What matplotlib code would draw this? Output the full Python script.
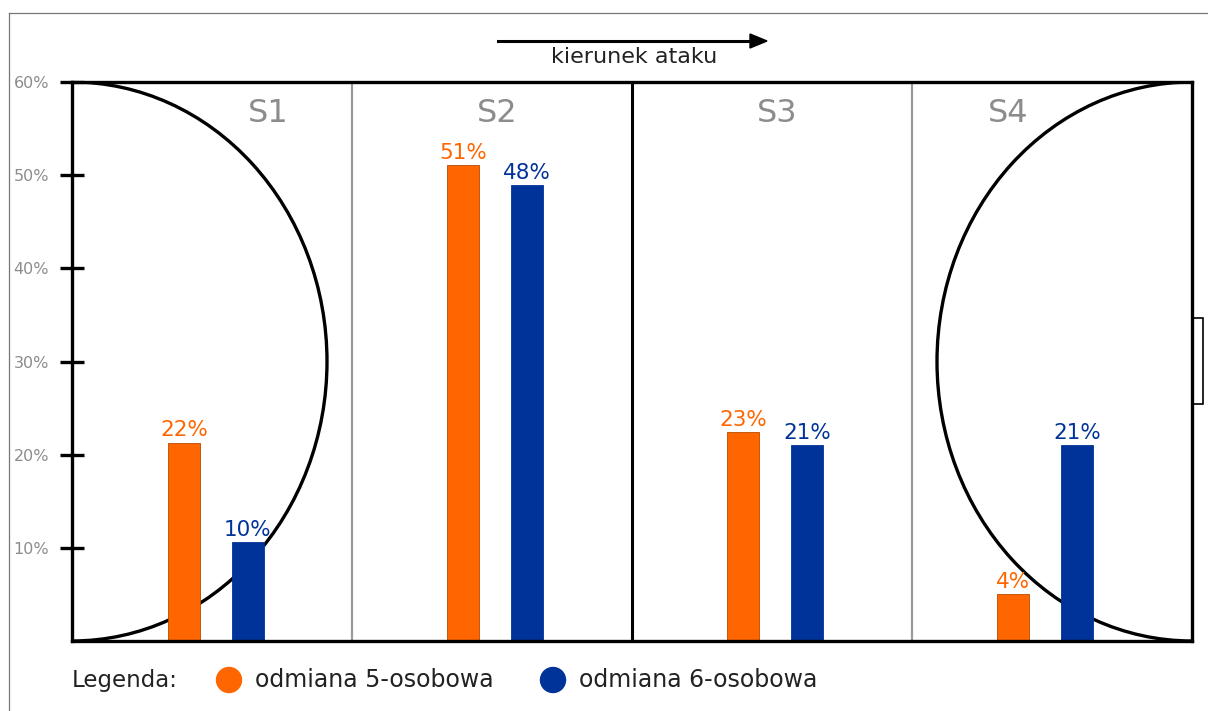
import matplotlib
matplotlib.use("Agg")
import matplotlib.pyplot as plt
from matplotlib.patches import Arc, Rectangle, Ellipse
from matplotlib.lines import Line2D
import numpy as np

# ---- data ----
sections = ["S1", "S2", "S3", "S4"]
five_vals = [21.3, 51.1, 22.4, 5.0]
six_vals = [10.6, 48.9, 21.0, 21.0]
five_labels = ["22%", "51%", "23%", "4%"]
six_labels = ["10%", "48%", "21%", "21%"]
yticks = [10, 20, 30, 40, 50, 60]
ytick_labels = ["10%", "20%", "30%", "40%", "50%", "60%"]
legend_names = ["odmiana 5-osobowa", "odmiana 6-osobowa"]

ORANGE = "#ff6600"
BLUE = "#003399"
GRAY = "#999999"
FONT = ["DejaVu Sans"]

W, H = 1208, 711
fig = plt.figure(figsize=(W / 100, H / 100), dpi=100)
fig.patch.set_facecolor("white")

def fx(px):
    return px / W

def fy(py):
    return 1 - py / H

# outer thin frame (left and top)
fig.add_artist(Line2D([fx(9), fx(9)], [fy(13), 0], color="#777777", lw=0.9))
fig.add_artist(Line2D([fx(9), 1], [fy(13), fy(13)], color="#777777", lw=0.9))

ax = fig.add_axes([fx(72), fy(641), (1192 - 72) / W, (641 - 82) / H])
ax.set_xlim(0, 4)
ax.set_ylim(0, 60)
for s in ax.spines.values():
    s.set_linewidth(2.4)
    s.set_color("black")
    s.set_zorder(5)

group_centers = np.array([0.514, 1.511, 2.511, 3.475])
bw = 32 / 280
off = 0.114

ax.bar(group_centers - off, five_vals, width=bw, color=ORANGE, edgecolor="#b84a00", linewidth=0.6, zorder=3)
ax.bar(group_centers + off, six_vals, width=bw, color=BLUE, edgecolor=BLUE, linewidth=0.6, zorder=3)

for cx, v, lab in zip(group_centers - off, five_vals, five_labels):
    ax.annotate(lab, (cx, v), xytext=(0, 4.5), textcoords="offset points",
                ha="center", va="baseline", color=ORANGE, fontsize=15.5, family=FONT, zorder=6)
for cx, v, lab in zip(group_centers + off, six_vals, six_labels):
    ax.annotate(lab, (cx, v), xytext=(0, 4.5), textcoords="offset points",
                ha="center", va="baseline", color=BLUE, fontsize=15.5, family=FONT, zorder=6)

# field lines
ax.axvline(1, color=GRAY, lw=1.6, zorder=1)
ax.axvline(3, color=GRAY, lw=1.6, zorder=1)
ax.axvline(2, color="black", lw=2.2, zorder=1)
arc_w = 2 * 255 / 280
ax.add_patch(Arc((0, 30), arc_w, 60, theta1=-90, theta2=90, color="black", lw=2.4, zorder=2))
ax.add_patch(Arc((4, 30), arc_w, 60, theta1=90, theta2=270, color="black", lw=2.4, zorder=2))
ax.add_patch(Rectangle((4, 25.4), 11 / 280, 34.67 - 25.4, fill=False, edgecolor="black",
                       lw=1.2, clip_on=False, zorder=2))

# section labels
sec_x = [0.70, 1.518, 2.518, 3.343]
for sx, name in zip(sec_x, sections):
    ax.text(sx, 56.6, name, ha="center", va="center", color="#8c8c8c", fontsize=23, family=FONT)

# y axis ticks
ax.set_xticks([])
ax.set_yticks(yticks)
ax.set_yticklabels(ytick_labels, family=FONT, fontsize=11.5, color="#8c8c8c")
ax.tick_params(axis="y", direction="inout", length=17, width=2.4, pad=0, color="black")
for lbl in ax.get_yticklabels():
    lbl.set_x(-11 / 1120)

# arrow + direction text
fig.add_artist(Line2D([fx(498), fx(752)], [fy(41), fy(41)], color="black", lw=2.2))
fig.patches.append(plt.Polygon([[fx(750), fy(34)], [fx(767), fy(41)], [fx(750), fy(48)]],
                               closed=True, color="black", transform=fig.transFigure, figure=fig))
fig.text(fx(634), fy(57), "kierunek ataku", ha="center", va="center", fontsize=16,
         family=FONT, color="#222222")

# legend
fig.text(fx(72), fy(680), "Legenda:", ha="left", va="center", fontsize=16.5, family=FONT, color="#222222")
for cx_px, col, name in [(229, ORANGE, legend_names[0]), (553, BLUE, legend_names[1])]:
    fig.patches.append(Ellipse((fx(cx_px), fy(680)), 25 / W, 25 / H, color=col,
                               transform=fig.transFigure, figure=fig))
    fig.text(fx(cx_px + 26), fy(680), name, ha="left", va="center", fontsize=17,
             family=FONT, color="#222222")

fig.savefig("out.png", dpi=100)
